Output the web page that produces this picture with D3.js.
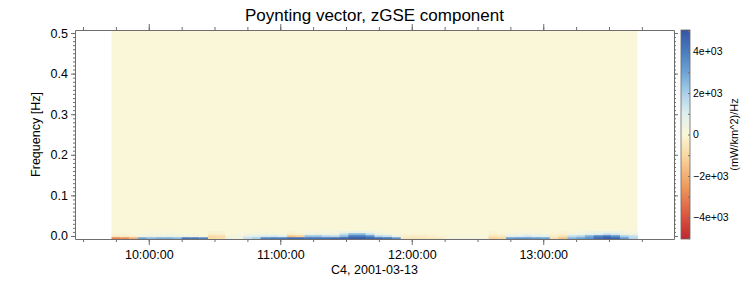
<!DOCTYPE html>
<html>
<head>
<meta charset="utf-8">
<script src="https://cdn.jsdelivr.net/npm/d3@7"></script>
<style>
    body { margin: 0; background: #fff; }
    svg { font-family: "Liberation Sans", Arial, Helvetica, sans-serif; }
    .axis path, .axis line { stroke: #6e6e6e; }
    .axis text { fill: #000; }
</style>
</head>
<body>
<div id="chart"></div>
<script>
// ---- data ----
const day = "2001-03-13";
const axisStart = "09:26:20";
const axisEnd = "13:59:40";
const binStart = "09:43:00";
const binMinutes = 4;

// frequency bins (centres, Hz) that carry signal; everything above is ~0
const freqBinHz = 0.005;
const lowFreqs = [-0.005, 0, 0.005, 0.01];

// z-component Poynting flux spectral density, (mW/km^2)/Hz, one value per 4-min bin
const row0 = [-3000, -2800, -2000, 3000, 2500, 2800, 2800, 2500, 4200, 4200,
              3800, -1000, -800, 500, 300, 1500, 2000, 3800, 4000, 4000,
              4400, 4400, 4200, 4200, 4200, 4400, 4600, 4800, 4800, 4600,
              4400, 4200, 3400, -500, -600, -600, -500, -400, 200, 300,
              200, 300, 200, -1200, -1000, 3200, 3400, 3400, 3200, 3000,
              -800, -1500, 2600, 3000, 3400, 4400, 4800, 4600, 3200, 1800];
const row1 = [-400, -300, -200, 300, 500, 600, 600, 500, 400, 300,
              0, -900, -800, 200, 300, 800, 1000, 1200, 1200, 1000,
              -1500, -1200, 2300, 2300, 1800, 1600, 2500, 4000, 4000, 3500,
              1800, 1500, 500, -200, -300, -300, -200, -100, 100, 0,
              100, 0, 100, -600, -500, 800, 1000, 1200, 1000, 800,
              -300, -700, 1500, 1800, 2800, 3800, 4200, 3500, 2000, 1500];
const row2 = [-100, -100, 0, 100, 200, 200, 200, 100, 100, 100,
              0, -300, -250, 0, 100, 200, 300, 300, 300, 200,
              -300, -200, 500, 500, 400, 400, 1500, 2500, 2500, 1500,
              500, 300, 100, -100, -100, -100, -100, 0, 0, 0,
              0, 0, 0, -200, -100, 300, 300, 400, 300, 200,
              -100, -200, 400, 500, 800, 1000, 1500, 1200, 600, 400];
const row3 = [0, 0, 0, 0, 100, 100, 100, 0, 0, 0,
              0, -100, -100, 0, 0, 0, 100, 100, 100, 0,
              -100, 0, 200, 200, 200, 200, 400, 600, 600, 400,
              100, 100, 0, 0, 0, 0, 0, 0, 0, 0,
              0, 0, 0, -100, 0, 100, 100, 100, 100, 0,
              0, -100, 100, 200, 300, 400, 500, 400, 200, 100];
const lowRows = [row0, row1, row2, row3];

const yTicks = [0, 0.1, 0.2, 0.3, 0.4, 0.5];
const xTickHours = ["10:00:00", "11:00:00", "12:00:00", "13:00:00"];
const cbTicks = [-4000, -2000, 0, 2000, 4000];
const cbLabels = ["\u22124e+03", "\u22122e+03", "0", "2e+03", "4e+03"];

// ---- layout ----
const W = 750, H = 300;
const plot = { left: 75, right: 674, top: 30, bottom: 239 };
const cb = { left: 681, right: 690 };

const parse = d3.timeParse("%Y-%m-%d %H:%M:%S");
const t0 = parse(day + " " + axisStart), t1 = parse(day + " " + axisEnd);
const b0 = parse(day + " " + binStart);
const binTimes = row0.map((_, i) => d3.timeMinute.offset(b0, i * binMinutes));
const dataEnd = d3.timeMinute.offset(b0, row0.length * binMinutes);

const svg = d3.select("#chart").append("svg")
    .attr("width", W)
    .attr("height", H);

const x = d3.scaleTime().domain([t0, t1]).range([plot.left, plot.right]);
const y = d3.scaleLinear().domain([-0.0075, 0.5075]).range([plot.bottom, plot.top]);

const color = d3.scaleLinear()
    .domain([-5040, -4000, -2500, -1000, 0, 1000, 2000, 3000, 4000, 5040])
    .range(["#c1272f", "#d8523e", "#ef9a5c", "#f8d9a2", "#faf6d8",
            "#dfeff0", "#a9d0e9", "#6ea4d4", "#4a7cbf", "#3455a1"])
    .clamp(true);

// zero-level background over the whole data span
svg.append("rect")
    .attr("x", x(b0))
    .attr("y", y(0.5075))
    .attr("width", x(dataEnd) - x(b0))
    .attr("height", y(lowFreqs[lowFreqs.length - 1] + freqBinHz / 2) - y(0.5075))
    .attr("fill", color(0));

// low-frequency cells
const cells = [];
lowRows.forEach((row, j) => {
    row.forEach((v, i) => cells.push({ t: binTimes[i], f: lowFreqs[j], v: v }));
});

svg.append("g").selectAll("rect")
    .data(cells)
    .enter().append("rect")
    .attr("x", d => x(d.t))
    .attr("y", d => y(d.f + freqBinHz / 2))
    .attr("width", d => x(d3.timeMinute.offset(d.t, binMinutes)) - x(d.t) + 0.4)
    .attr("height", d => y(d.f - freqBinHz / 2) - y(d.f + freqBinHz / 2) + 0.3)
    .attr("fill", d => color(d.v));

// ---- axes ----
const hourTicks = xTickHours.map(s => parse(day + " " + s));
const quarterTicks = d3.timeMinute.every(15).range(t0, t1);
const fmt = d3.timeFormat("%H:%M:%S");

// bottom
svg.append("g").attr("class", "axis")
    .attr("transform", "translate(0," + plot.bottom + ")")
    .call(d3.axisBottom(x).tickValues(quarterTicks).tickSize(3).tickFormat(""))
    .call(g => g.select(".domain").remove());
svg.append("g").attr("class", "axis")
    .attr("transform", "translate(0," + plot.bottom + ")")
    .call(d3.axisBottom(x).tickValues(hourTicks).tickSize(6).tickSizeOuter(0)
        .tickFormat(fmt).tickPadding(5))
    .call(g => g.selectAll("text").attr("font-size", 12.5));
// top
svg.append("g").attr("class", "axis")
    .attr("transform", "translate(0," + plot.top + ")")
    .call(d3.axisTop(x).tickValues(quarterTicks).tickSize(3).tickFormat(""))
    .call(g => g.select(".domain").remove());
svg.append("g").attr("class", "axis")
    .attr("transform", "translate(0," + plot.top + ")")
    .call(d3.axisTop(x).tickValues(hourTicks).tickSize(6).tickSizeOuter(0).tickFormat(""));

// left / right
const minorY = d3.range(0, 51).map(d => d / 100);
svg.append("g").attr("class", "axis")
    .attr("transform", "translate(" + plot.left + ",0)")
    .call(d3.axisLeft(y).tickValues(minorY).tickSize(2).tickFormat(""))
    .call(g => g.select(".domain").remove());
svg.append("g").attr("class", "axis")
    .attr("transform", "translate(" + plot.left + ",0)")
    .call(d3.axisLeft(y).tickValues(yTicks).tickSize(4).tickSizeOuter(0)
        .tickFormat(d3.format(".1f")).tickPadding(3))
    .call(g => g.selectAll("text").attr("font-size", 12.5));
svg.append("g").attr("class", "axis")
    .attr("transform", "translate(" + plot.right + ",0)")
    .call(d3.axisRight(y).tickValues(minorY).tickSize(2).tickFormat(""))
    .call(g => g.select(".domain").remove());
svg.append("g").attr("class", "axis")
    .attr("transform", "translate(" + plot.right + ",0)")
    .call(d3.axisRight(y).tickValues(yTicks).tickSize(4).tickSizeOuter(0).tickFormat(""));

// ---- colour bar ----
const cy = d3.scaleLinear().domain([-5040, 5040]).range([plot.bottom, plot.top]);
const grad = svg.append("defs").append("linearGradient")
    .attr("id", "cbgrad")
    .attr("x1", 0).attr("y1", 1).attr("x2", 0).attr("y2", 0);
d3.range(0, 41).forEach(k => {
    const v = -5040 + k * 10080 / 40;
    grad.append("stop").attr("offset", (k / 40 * 100) + "%").attr("stop-color", color(v));
});
svg.append("rect")
    .attr("x", cb.left)
    .attr("y", plot.top)
    .attr("width", cb.right - cb.left)
    .attr("height", plot.bottom - plot.top)
    .attr("fill", "url(#cbgrad)")
    .attr("stroke", "#666")
    .attr("stroke-width", 0.8);

svg.append("g").attr("class", "axis")
    .attr("transform", "translate(" + cb.right + ",0)")
    .call(d3.axisLeft(cy).tickValues(d3.range(-5000, 5001, 1000)).tickSize(2).tickFormat(""))
    .call(g => g.select(".domain").remove());
svg.append("g").attr("class", "axis")
    .attr("transform", "translate(" + cb.right + ",0)")
    .call(d3.axisRight(cy).tickValues(cbTicks).tickSize(0).tickSizeOuter(0)
        .tickFormat((d, i) => cbLabels[i]).tickPadding(3))
    .call(g => g.select(".domain").remove())
    .call(g => g.selectAll("text").attr("font-size", 10.5));

// ---- titles ----
svg.append("text")
    .attr("x", (plot.left + plot.right) / 2)
    .attr("y", 21)
    .attr("text-anchor", "middle")
    .attr("font-size", 17)
    .text("Poynting vector, zGSE component");

svg.append("text")
    .attr("x", (plot.left + plot.right) / 2)
    .attr("y", 274)
    .attr("text-anchor", "middle")
    .attr("font-size", 12.5)
    .text("C4, 2001-03-13");

svg.append("text")
    .attr("transform", "translate(40," + (plot.top + plot.bottom) / 2 + ") rotate(-90)")
    .attr("text-anchor", "middle")
    .attr("font-size", 12.5)
    .text("Frequency [Hz]");

svg.append("text")
    .attr("transform", "translate(738," + (plot.top + plot.bottom) / 2 + ") rotate(-90)")
    .attr("text-anchor", "middle")
    .attr("font-size", 11)
    .text("(mW/km^2)/Hz");
</script>
</body>
</html>
